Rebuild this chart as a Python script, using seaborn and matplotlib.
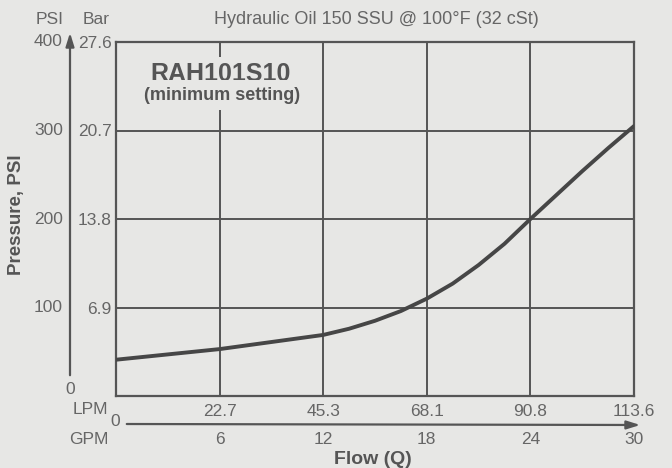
import matplotlib
matplotlib.use("Agg")
import matplotlib.pyplot as plt
import matplotlib.transforms as mtransforms
import seaborn as sns
import pandas as pd

# ---- data ----
gpm = [0, 1.5, 3, 4.5, 6, 7.5, 9, 10.5, 12, 13.5, 15, 16.5, 18, 19.5, 21,
       22.5, 24, 25.5, 27, 28.5, 30]
psi = [41, 44, 47, 50, 53, 57, 61, 65, 69, 76, 85, 96, 110, 127, 148,
       172, 200, 227, 254, 280, 305]

gpm_ticks = [0, 6, 12, 18, 24, 30]
lpm_labels = ["", "22.7", "45.3", "68.1", "90.8", "113.6"]
gpm_labels = ["", "6", "12", "18", "24", "30"]
psi_ticks = [0, 100, 200, 300, 400]
psi_labels = ["0", "100", "200", "300", "400"]
bar_labels = ["", "6.9", "13.8", "20.7", "27.6"]

title = "Hydraulic Oil 150 SSU @ 100°F (32 cSt)"
model = "RAH101S10"
subtitle = "(minimum setting)"

BG = "#e7e7e5"
TXT = "#666666"
LINE = "#555555"
CURVE = "#464646"

sns.set_style("white")
plt.rcParams["font.family"] = ["Liberation Sans", "DejaVu Sans"]

fig = plt.figure(figsize=(6.72, 4.68), dpi=100, facecolor=BG)
W, H = 672, 468
ax = fig.add_axes([116 / W, 1 - 396 / H, (634 - 116) / W, (396 - 42) / H])
ax.set_facecolor(BG)

df = pd.DataFrame({"GPM": gpm, "PSI": psi})
sns.lineplot(data=df, x="GPM", y="PSI", ax=ax, color=CURVE, lw=2.8, zorder=4)

ax.set_xlim(0, 30)
ax.set_ylim(0, 400)
ax.set_xticks(gpm_ticks)
ax.set_xticklabels(lpm_labels)
ax.set_yticks(psi_ticks)
ax.set_yticklabels(bar_labels)
ax.tick_params(axis="both", length=0, labelsize=12.5, colors=TXT)
ax.tick_params(axis="x", pad=6)
ax.tick_params(axis="y", pad=3)
ax.grid(True, color=LINE, lw=1.4)
ax.set_axisbelow(True)
for s in ax.spines.values():
    s.set_visible(True)
    s.set_color(LINE)
    s.set_linewidth(1.6)
ax.set_xlabel("")
ax.set_ylabel("")

# PSI labels on the far left
tr_psi = mtransforms.blended_transform_factory(fig.transFigure, ax.transData)
for v, lab in zip(psi_ticks[1:], psi_labels[1:]):
    fig.text(63 / W, v, lab, transform=tr_psi, ha="right", va="center",
             fontsize=12.5, color=TXT)
fig.text(70 / W, 1 - 390 / H, psi_labels[0], ha="center", va="center",
         fontsize=12.5, color=TXT)

# GPM labels row
tr_gpm = mtransforms.blended_transform_factory(ax.transData, fig.transFigure)
for v, lab in zip(gpm_ticks, gpm_labels):
    if lab:
        fig.text(v, 1 - 440 / H, lab, transform=tr_gpm, ha="center", va="center",
                 fontsize=12.5, color=TXT)

# axis arrows
ax.annotate("", xy=(70, H - 30), xytext=(70, H - 378), xycoords="figure pixels",
            textcoords="figure pixels",
            arrowprops=dict(arrowstyle="-|>,head_length=0.8,head_width=0.25",
                            color=LINE, lw=1.6), annotation_clip=False)
ax.annotate("", xy=(643, H - 425), xytext=(124, H - 424), xycoords="figure pixels",
            textcoords="figure pixels",
            arrowprops=dict(arrowstyle="-|>,head_length=0.8,head_width=0.25",
                            color=LINE, lw=1.6), annotation_clip=False)
fig.text(115 / W, 1 - 422 / H, "0", ha="center", va="center", fontsize=12.5, color=TXT)

# unit labels
fig.text(108 / W, 1 - 410 / H, "LPM", ha="right", va="center", fontsize=12.5, color=TXT)
fig.text(108 / W, 1 - 440 / H, "GPM", ha="right", va="center", fontsize=12.5, color=TXT)
fig.text(50 / W, 1 - 19 / H, "PSI", ha="center", va="center", fontsize=12.5, color=TXT)
fig.text(96 / W, 1 - 19 / H, "Bar", ha="center", va="center", fontsize=12.5, color=TXT)

fig.text(376 / W, 1 - 19 / H, title, ha="center", va="center", fontsize=13, color=TXT)
fig.text(373 / W, 1 - 459 / H, "Flow (Q)", ha="center", va="center",
         fontsize=14, fontweight="bold", color="#555555")
fig.text(17 / W, 1 - 215 / H, "Pressure, PSI", ha="center", va="center", rotation=90,
         fontsize=13.5, fontweight="bold", color="#555555")

# model annotation with gap in grid
fig.text(221 / W, 1 - 74 / H, model, ha="center", va="center", fontsize=18,
         fontweight="bold", color="#555555", zorder=5,
         bbox=dict(facecolor=BG, edgecolor="none", pad=4))
fig.text(222 / W, 1 - 95 / H, subtitle, ha="center", va="center", fontsize=13,
         fontweight="bold", color="#555555", zorder=5,
         bbox=dict(facecolor=BG, edgecolor="none", pad=5))

fig.savefig("out.png", dpi=100, facecolor=BG)
